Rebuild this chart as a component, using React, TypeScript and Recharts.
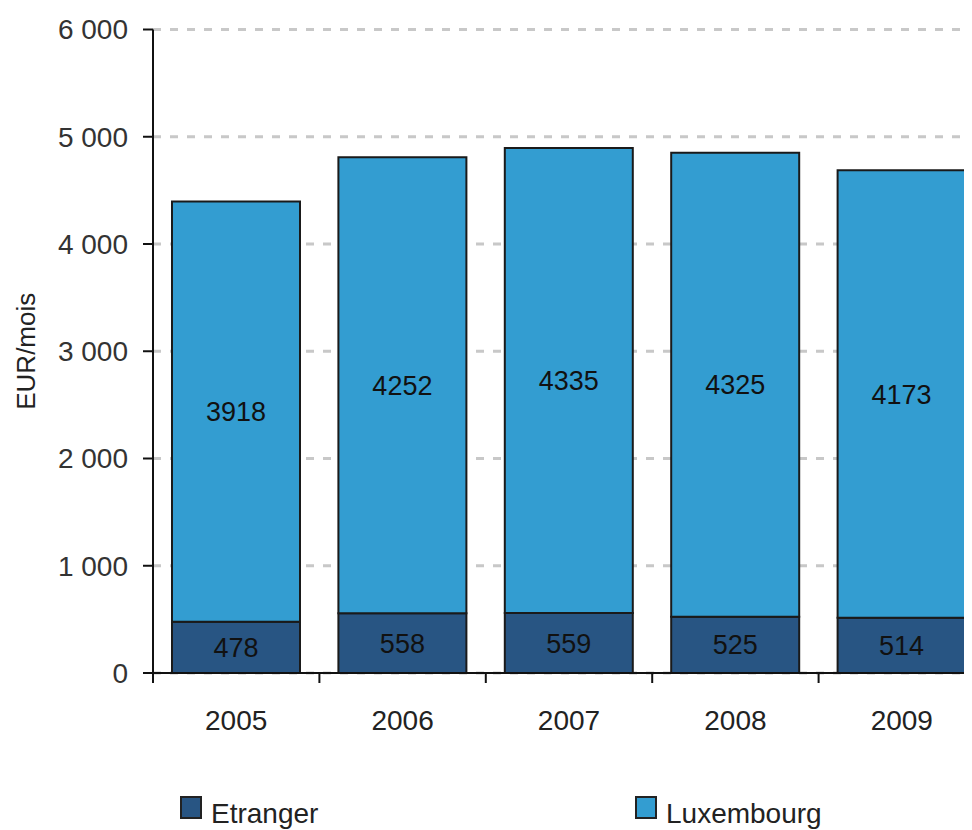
import { Bar, BarChart, CartesianGrid, Label, LabelList, Legend, XAxis, YAxis } from 'recharts';

const years = ['2005', '2006', '2007', '2008', '2009'];
const etranger = [478, 558, 559, 525, 514];
const luxembourg = [3918, 4252, 4335, 4325, 4173];
const yTicks = [0, 1000, 2000, 3000, 4000, 5000, 6000];

const data = years.map((year, i) => ({ year, etranger: etranger[i], luxembourg: luxembourg[i] }));

const W = 990;
const H = 822;
const margin = { top: 21.5, right: 13, left: 0, bottom: 97 };
const Y_AXIS_W = 145;
const BAND = (W - margin.left - margin.right - Y_AXIS_W) / years.length;
const TICK_SIZE = 10;
const X_TICK_MARGIN = 27;

const DARK = '#285583';
const LIGHT = '#339dd1';
const FONT = '"Liberation Sans", Arial, sans-serif';

const fmt = (v: number) => String(v).replace(/\B(?=(\d{3})+(?!\d))/g, ' ');

// category label + a tick mark on the left boundary of each band
const XTick = (props: any) => {
  const { x, y, payload } = props;
  const axisY = y - X_TICK_MARGIN - TICK_SIZE;
  const left = x - BAND / 2;
  return (
    <g>
      <line x1={left} x2={left} y1={axisY} y2={axisY + TICK_SIZE} stroke="#111" strokeWidth={2} />
      <text x={x} y={y} dy="0.71em" textAnchor="middle" fontSize={28} fill="#222">
        {payload.value}
      </text>
    </g>
  );
};

const LegendContent = (props: any) => {
  const lefts = [172, 627];
  return (
    <div style={{ position: 'relative', width: W, height: 36, fontFamily: FONT }}>
      {(props.payload || []).map((p: any, i: number) => (
        <div key={p.value} style={{ position: 'absolute', left: lefts[i], top: 0, display: 'flex', alignItems: 'flex-start' }}>
          <span style={{ width: 18, height: 19, background: p.color, border: '2px solid #222', display: 'inline-block' }} />
          <span style={{ fontSize: 28, lineHeight: '28px', marginLeft: 9, marginTop: 4, color: '#222' }}>{p.value}</span>
        </div>
      ))}
    </div>
  );
};

export default function App() {
  return (
    <div style={{ fontFamily: FONT }}>
      <BarChart width={W} height={H} data={data} margin={margin}>
        <CartesianGrid vertical={false} stroke="#c8c8c8" strokeWidth={3} strokeDasharray="8 9" />
        <XAxis
          dataKey="year"
          tickLine={false}
          tickSize={TICK_SIZE}
          tickMargin={X_TICK_MARGIN}
          axisLine={{ stroke: '#111', strokeWidth: 2 }}
          tick={<XTick />}
          height={60}
          interval={0}
        />
        <YAxis
          width={Y_AXIS_W}
          domain={[0, 6000]}
          ticks={yTicks}
          tickFormatter={fmt}
          tickSize={TICK_SIZE}
          tickMargin={15}
          tick={{ fontSize: 28, fill: '#333' }}
          tickLine={{ stroke: '#111', strokeWidth: 2 }}
          axisLine={{ stroke: '#111', strokeWidth: 2 }}
        >
          <Label
            value="EUR/mois"
            angle={-90}
            position="insideLeft"
            offset={18}
            fontSize={26}
            fill="#222"
            style={{ textAnchor: 'middle', fontSize: 26 }}
          />
        </YAxis>
        <Legend
          layout="horizontal"
          verticalAlign="middle"
          align="center"
          wrapperStyle={{ top: 788, left: 0, width: W }}
          content={<LegendContent />}
        />
        <Bar dataKey="etranger" name="Etranger" stackId="a" fill={DARK} stroke="#1a1a1a" strokeWidth={2} barSize={128} isAnimationActive={false}>
          <LabelList dataKey="etranger" position="center" fontSize={27} fill="#111" />
        </Bar>
        <Bar dataKey="luxembourg" name="Luxembourg" stackId="a" fill={LIGHT} stroke="#1a1a1a" strokeWidth={2} barSize={128} isAnimationActive={false}>
          <LabelList dataKey="luxembourg" position="center" fontSize={27} fill="#111" />
        </Bar>
      </BarChart>
    </div>
  );
}
